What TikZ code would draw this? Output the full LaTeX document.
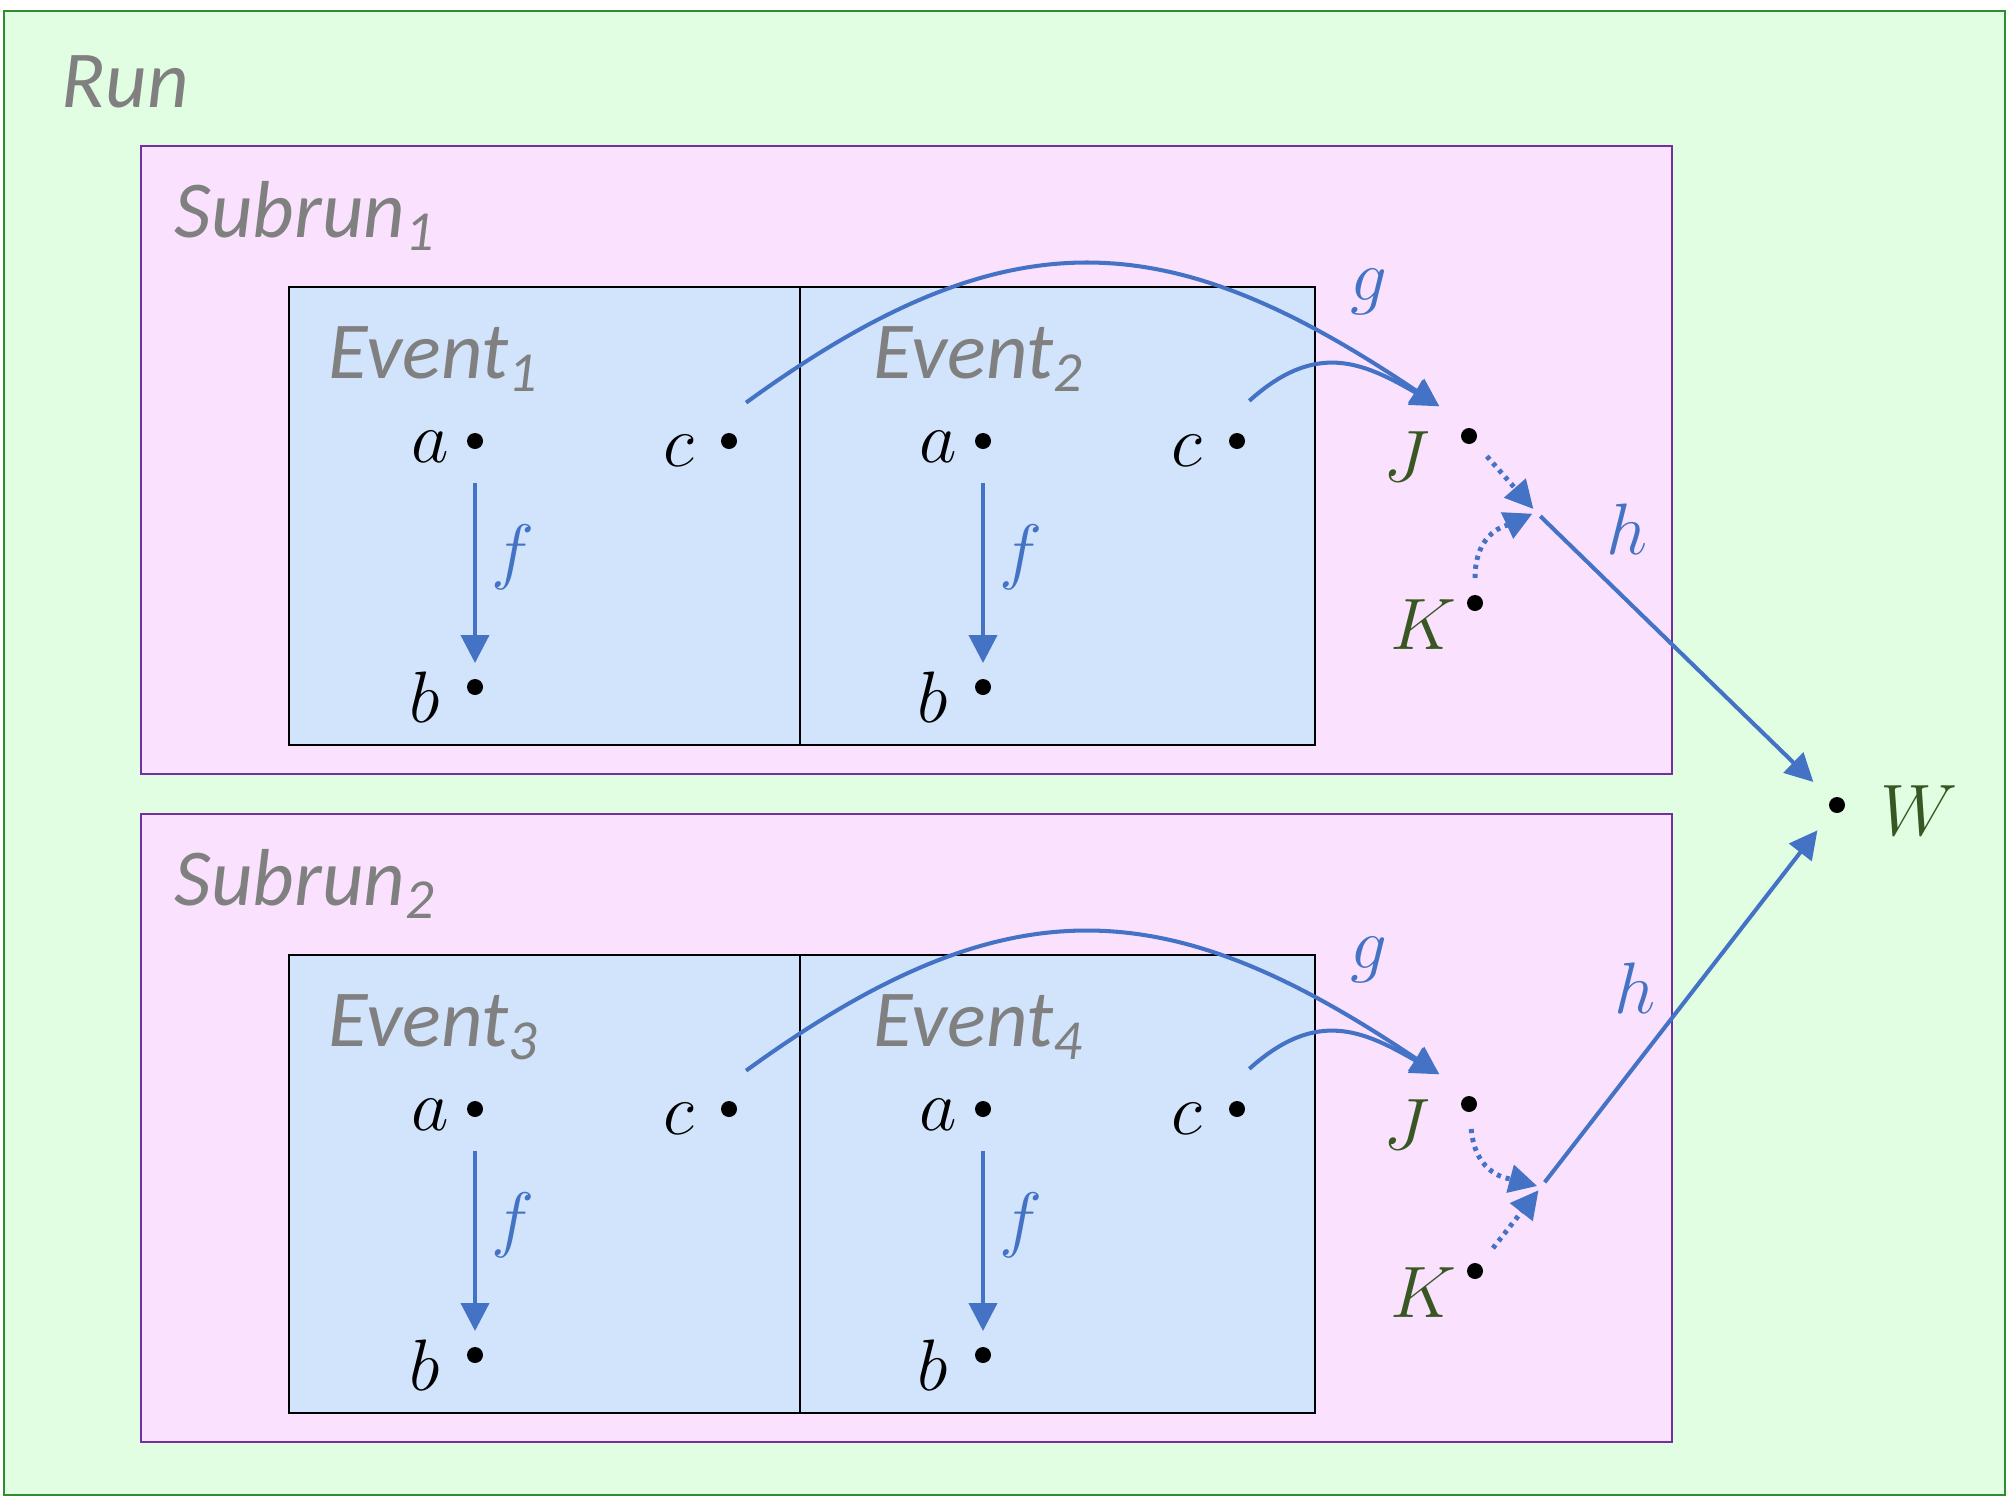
\documentclass[tikz,border=0pt]{standalone}
\usepackage{fontspec}
\setmainfont{Carlito}
\usetikzlibrary{arrows.meta,calc}

\definecolor{runfill}{RGB}{226,254,226}
\definecolor{runline}{RGB}{48,140,48}
\definecolor{subfill}{RGB}{250,226,254}
\definecolor{subline}{RGB}{112,48,160}
\definecolor{evfill}{RGB}{210,228,252}
\definecolor{arrblue}{RGB}{68,114,196}
\definecolor{varcol}{RGB}{56,87,35}
\definecolor{txtgray}{RGB}{128,128,128}

\begin{document}
\begin{tikzpicture}[
    runbox/.style={draw=runline,fill=runfill,line width=0.6pt},
    subbox/.style={draw=subline,fill=subfill,line width=0.6pt},
    evbox/.style={draw=black,fill=evfill,line width=0.6pt},
    title/.style={anchor=base west,inner sep=0pt,text=txtgray,font=\fontsize{23}{28}\selectfont\itshape},
    pt/.style={circle,fill=black,inner sep=0pt,minimum size=0.16cm,outer sep=0.34cm},
    lbl/.style={inner sep=0pt,font=\fontsize{22}{26}\selectfont},
    var/.style={lbl,text=varcol},
    fn/.style={lbl,text=arrblue},
    arr/.style={draw=arrblue,line width=1.15pt,-{Triangle[length=0.28cm,width=0.28cm]}},
    dotarr/.style={arr,line width=1.4pt,dash pattern=on 1.2pt off 1.4pt}]
  \useasboundingbox (0,0) rectangle (20.07,-14.98);
  \draw[runbox] (0.04,-0.11) rectangle (20.05,-14.95);
  \node[title] (run) at (0.61,-1.07) {Run};
  % two subruns, each with two events
  \foreach \s [evaluate=\s as \dy using -(\s-1)*6.68,
               evaluate=\s as \m using int(2*\s-1),
               evaluate=\s as \k using int(2*\s)] in {1,2} {
    \begin{scope}[yshift=\dy cm]
      \draw[subbox] (1.41,-1.46) rectangle (16.72,-7.74);
      \node[title] (sub\s) at (1.74,-2.37) {Subrun\textsubscript{\s}};
      \foreach \e/\bl/\br/\lx/\ax [evaluate=\e as \n using int(2*\s-2+\e)]
          in {1/2.89/8.00/3.28/4.75, 2/8.00/13.15/8.73/9.83} {
        \draw[evbox] (\bl,-2.87) rectangle (\br,-7.45);
        \node[title] (ev\n) at (\lx,-3.78) {Event\textsubscript{\n}};
        \node[pt] (a\n) at (\ax,-4.41) {};
        \node[pt] (b\n) at (\ax,-6.87) {};
        \node[pt] (c\n) at (\ax+2.54,-4.41) {};
        \node[lbl] (la\n) at (\ax-0.45,-4.47) {$a$};
        \node[lbl] (lb\n) at (\ax-0.50,-6.97) {$b$};
        \node[lbl] (lc\n) at (\ax+2.04,-4.51) {$c$};
        \node[fn] (f\n) at (\ax+0.38,-5.57) {$f$};
        \draw[arr,shorten >=-0.18cm] (a\n) -- (b\n);
      }
      \node[pt] (J\s) at (14.69,-4.36) {};
      \node[pt] (K\s) at (14.75,-6.03) {};
      \node[var] (lJ\s) at (14.07,-4.57) {$J$};
      \node[var] (lK\s) at (14.23,-6.25) {$K$};
      \node[fn] (g\s) at (13.69,-2.92) {$g$};
      \draw[arr] (c\m.66) to[out=36,in=146,looseness=1.2] (J\s.135);
      \draw[arr] (c\k.73) to[out=42,in=150,looseness=1.2] (J\s.135);
    \end{scope}
  }
  \node[pt] (W) at (18.37,-8.05) {};
  \node[var] (lW) at (19.19,-8.11) {$W$};
  % upper junction
  \coordinate (jn1) at (15.36,-5.12);
  \draw[dotarr,shorten <=-0.15cm,shorten >=0.04cm] (J1) -- (jn1);
  \draw[dotarr,shorten <=-0.17cm,shorten >=0.04cm] (K1.90) to[out=90,in=205] (jn1);
  \draw[arr,shorten <=0.06cm,shorten >=-0.09cm] (jn1) -- (W);
  \node[fn] (h1) at (16.27,-5.29) {$h$};
  % lower junction
  \coordinate (jn2) at (15.41,-11.87);
  \draw[dotarr,shorten <=-0.17cm,shorten >=0.04cm] (J2.275) to[out=-85,in=165] (jn2);
  \draw[dotarr,shorten <=-0.13cm,shorten >=0.04cm] (K2) -- (jn2);
  \draw[arr,shorten <=0.06cm,shorten >=-0.1cm] (jn2) -- (W);
  \node[fn] (h2) at (16.35,-9.88) {$h$};
\end{tikzpicture}
\end{document}
